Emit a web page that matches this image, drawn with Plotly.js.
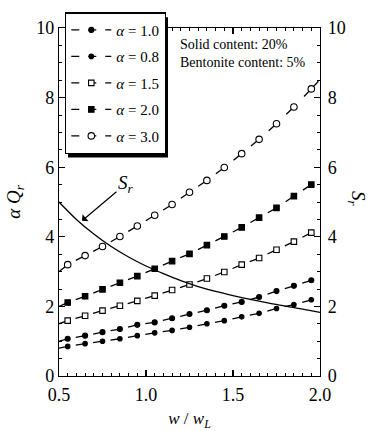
<!DOCTYPE html>
<html>
<head>
<meta charset="utf-8">
<script src="https://cdn.plot.ly/plotly-3.0.1.min.js"></script>
<style>html,body{margin:0;padding:0;background:#fff;}#chart{width:370px;height:431px;}</style>
</head>
<body>
<div id="chart"></div>
<script>
// marker positions (w / w_L)
const markerX = [0.55, 0.65, 0.75, 0.85, 0.95, 1.05, 1.15, 1.25, 1.35, 1.45, 1.55, 1.65, 1.75, 1.85, 1.95];
const alpha10 = [1.07, 1.16, 1.26, 1.35, 1.47, 1.54, 1.66, 1.78, 1.89, 2.02, 2.13, 2.27, 2.44, 2.59, 2.75];
const alpha08 = [0.85, 0.93, 1.00, 1.07, 1.16, 1.24, 1.31, 1.40, 1.50, 1.59, 1.70, 1.80, 1.94, 2.05, 2.19];
const alpha15 = [1.59, 1.73, 1.88, 2.02, 2.16, 2.31, 2.47, 2.63, 2.80, 2.99, 3.20, 3.39, 3.63, 3.86, 4.12];
const alpha20 = [2.11, 2.29, 2.49, 2.68, 2.87, 3.08, 3.30, 3.51, 3.76, 4.01, 4.27, 4.55, 4.83, 5.17, 5.50];
const alpha30 = [3.20, 3.46, 3.72, 4.01, 4.31, 4.62, 4.93, 5.28, 5.62, 5.99, 6.39, 6.80, 7.25, 7.73, 8.25];
// dashed lines start at w/wL = 0.5 (values in legend order: 1.0, 0.8, 1.5, 2.0, 3.0)
const lineStartX = 0.5;
const lineStartY = [1.00, 0.80, 1.50, 2.00, 3.00];
// the alpha = 3.0 line runs on to the frame at w/wL = 2.0
const tailX = 2.0;
const alpha30Tail = 8.52;
const seriesNames = ['<i>α</i> = 1.0', '<i>α</i> = 0.8', '<i>α</i> = 1.5', '<i>α</i> = 2.0', '<i>α</i> = 3.0'];
// S_r curve (right axis)
const srX = [0.5, 0.6, 0.7, 0.8, 0.9, 1.0, 1.1, 1.2, 1.3, 1.4, 1.5, 1.6, 1.7, 1.8, 1.9, 2.0];
const srY = [5.00, 4.50, 4.08, 3.72, 3.42, 3.16, 2.94, 2.74, 2.57, 2.43, 2.31, 2.20, 2.10, 2.01, 1.92, 1.83];
const yTicks = [0, 2, 4, 6, 8, 10];
const xTicks = [0.5, 1.0, 1.5, 2.0];

const FONT = '"Liberation Serif", "Times New Roman", serif';
const seriesY = [alpha10, alpha08, alpha15, alpha20, alpha30];
const styles = [
  {symbol: 'circle', fill: '#000', size: 5, dash: 9.5},
  {symbol: 'circle', fill: '#000', size: 4.5, dash: 9.5},
  {symbol: 'square', fill: '#fff', size: 5.5, dash: 10},
  {symbol: 'square', fill: '#000', size: 5.5, dash: 10},
  {symbol: 'circle', fill: '#fff', size: 6.5, dash: 10.5}
];

const traces = [];
// S_r
traces.push({x: srX, y: srY, yaxis: 'y2', type: 'scatter', mode: 'lines',
  line: {color: '#000', width: 1.3, shape: 'spline'}, showlegend: false, name: 'S_r', hoverinfo: 'skip'});

// dashed segments: each dash ends at a marker (drawn from the marker backwards)
seriesY.forEach((ys, s) => {
  const px = [lineStartX].concat(markerX);
  const py = [lineStartY[s]].concat(ys);
  for (let i = 1; i < px.length; i++) {
    traces.push({x: [px[i], px[i - 1]], y: [py[i], py[i - 1]], type: 'scatter', mode: 'lines',
      line: {color: '#000', width: 1.3, dash: styles[s].dash + 'px,600px'}, showlegend: false, hoverinfo: 'skip'});
  }
  if (s === 4) {
    traces.push({x: [markerX[markerX.length - 1], tailX], y: [ys[ys.length - 1], alpha30Tail], type: 'scatter', mode: 'lines',
      line: {color: '#000', width: 1.3, dash: styles[s].dash + 'px,600px'}, showlegend: false, hoverinfo: 'skip'});
  }
});
// markers
seriesY.forEach((ys, s) => {
  traces.push({x: markerX, y: ys, type: 'scatter', mode: 'markers', name: seriesNames[s], showlegend: false,
    legendgroup: 'g' + s,
    marker: {symbol: styles[s].symbol, size: styles[s].size, color: styles[s].fill, line: {color: '#000', width: 1.1}},
    cliponaxis: false});
});
// legend entries
seriesY.forEach((ys, s) => {
  traces.push({x: [null], y: [null], type: 'scatter', mode: 'lines+markers', name: seriesNames[s],
    legendgroup: 'g' + s, showlegend: true,
    line: {color: '#000', width: 1.3, dash: '8px,9px'},
    marker: {symbol: styles[s].symbol, size: styles[s].size, color: styles[s].fill, line: {color: '#000', width: 1.1}}});
});

const axisCommon = {
  showline: true, linecolor: '#000', linewidth: 1.2,
  ticks: 'inside', ticklen: 6, tickwidth: 1.1, tickcolor: '#000',
  showgrid: false, zeroline: false,
  tickfont: {family: FONT, size: 18, color: '#000'}
};

const layout = {
  width: 370, height: 431,
  margin: {l: 59, r: 50, t: 24, b: 55},
  paper_bgcolor: '#fff', plot_bgcolor: '#fff',
  font: {family: FONT, color: '#000'},
  showlegend: true,
  legend: {
    x: 0.023, y: 1.045, xanchor: 'left', yanchor: 'top',
    bgcolor: '#fff', bordercolor: '#000', borderwidth: 1.3,
    font: {family: FONT, size: 15, color: '#000'},
    itemwidth: 40, traceorder: 'grouped', tracegroupgap: 4
  },
  xaxis: Object.assign({}, axisCommon, {
    range: [0.5, 2.0], tickvals: xTicks, ticktext: xTicks.map(v => v.toFixed(1)),
    mirror: 'ticks', ticklabelstandoff: 2,
    minor: {dtick: 0.05, tick0: 0.5, ticks: 'inside', ticklen: 3, tickcolor: '#000', tickwidth: 1},
    title: {text: '<i>w</i> / <i>w<sub>L</sub></i>', font: {family: FONT, size: 17, color: '#000'}, standoff: 8}
  }),
  yaxis: Object.assign({}, axisCommon, {
    range: [0, 10], tickvals: yTicks, mirror: true,
    minor: {dtick: 0.5, ticks: 'inside', ticklen: 3, tickcolor: '#000', tickwidth: 1},
    title: {text: '<i>α Q<sub>r</sub></i>', font: {family: FONT, size: 19, color: '#000'}, standoff: 10}
  }),
  yaxis2: Object.assign({}, axisCommon, {
    range: [0, 10], tickvals: yTicks, overlaying: 'y', side: 'right', ticklabelstandoff: 3,
    minor: {dtick: 0.5, ticks: 'inside', ticklen: 3, tickcolor: '#000', tickwidth: 1}
  }),
  shapes: [
    {type: 'rect', xref: 'paper', yref: 'paper', x0: (68 - 59) / 261, x1: (168 - 59) / 261, y0: (376 - 155) / 352, y1: (376 - 13) / 352,
     fillcolor: '#000', line: {width: 0}, layer: 'above'}
  ],
  annotations: [
    {xref: 'x', yref: 'y', x: 1.184, y: 9.28, xanchor: 'left', yanchor: 'middle', align: 'left', showarrow: false,
     text: 'Solid content: 20%<br>Bentonite content: 5%', font: {family: FONT, size: 14, color: '#000'}},
    {xref: 'x', yref: 'y2', x: 0.632, y: 4.46, ax: 44, ay: -37, showarrow: true, arrowhead: 1, arrowsize: 1.3, arrowwidth: 1.2, arrowcolor: '#000',
     text: '<i>S<sub>r</sub></i>', font: {family: FONT, size: 19, color: '#000'}},
    {xref: 'paper', yref: 'paper', x: (357 - 59) / 261, y: (376 - 197) / 352, xanchor: 'center', yanchor: 'middle', showarrow: false, textangle: 90,
     text: '<i>S<sub>r</sub></i>', font: {family: FONT, size: 19, color: '#000'}}
  ]
};

Plotly.newPlot('chart', traces, layout, {displayModeBar: false, staticPlot: true});
</script>
</body>
</html>
